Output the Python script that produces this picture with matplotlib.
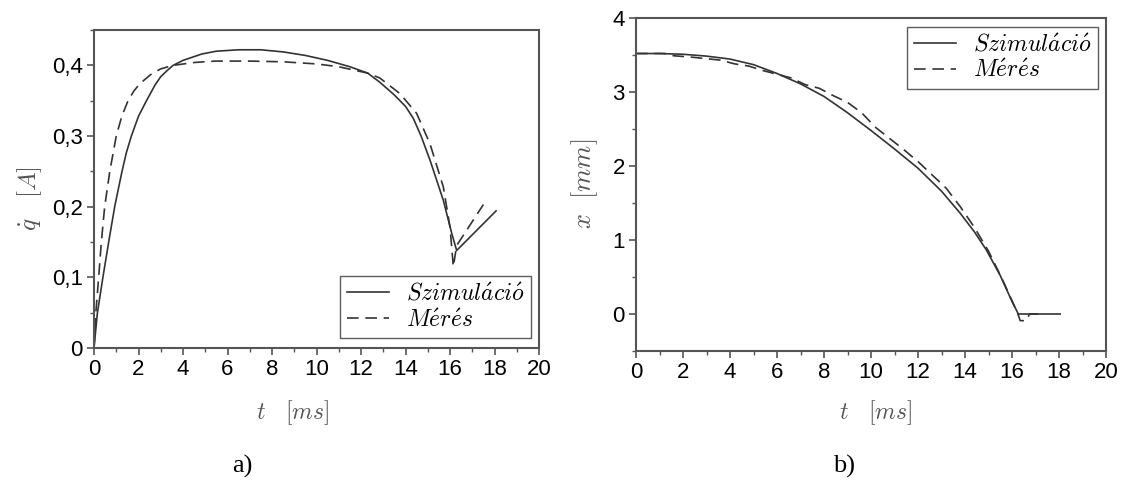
import matplotlib
matplotlib.use("Agg")
import matplotlib.pyplot as plt
from matplotlib.ticker import MultipleLocator

plt.rcParams['mathtext.fontset'] = 'cm'
plt.rcParams['font.family'] = ['Liberation Sans', 'DejaVu Sans']

# ---- data: panel a) current derivative ----
t_sim_a = [0, 0.15, 0.4, 0.66, 0.93, 1.1, 1.26, 1.45, 1.68, 2.0, 2.36, 2.74, 3.0, 3.3, 3.56,
           4.0, 4.84, 5.5, 6.5, 7.5, 8.5, 9.5, 10.5, 11.5, 12.3, 12.85, 13.5, 14.0, 14.35,
           14.7, 15.1, 15.7, 16.08, 16.3, 18.07]
q_sim = [0, 0.049, 0.1, 0.15, 0.2, 0.226, 0.25, 0.276, 0.3, 0.328, 0.35, 0.372, 0.384, 0.393,
         0.4, 0.407, 0.416, 0.42, 0.422, 0.422, 0.419, 0.414, 0.407, 0.398, 0.389, 0.376,
         0.358, 0.342, 0.325, 0.3, 0.266, 0.209, 0.162, 0.138, 0.194]
t_meas_a = [0, 0.08, 0.21, 0.33, 0.48, 0.71, 1.0, 1.25, 1.53, 1.8, 2.06, 2.59, 3.0, 3.56,
            4.5, 5.44, 7.0, 8.5, 10.0, 11.0, 12.3, 12.85, 13.75, 14.5, 15.1, 15.7, 16.0,
            16.15, 16.3, 17.5]
q_meas = [0, 0.049, 0.1, 0.15, 0.2, 0.25, 0.3, 0.328, 0.35, 0.364, 0.374, 0.388, 0.395, 0.4,
          0.404, 0.406, 0.406, 0.405, 0.402, 0.398, 0.389, 0.382, 0.36, 0.332, 0.289, 0.228,
          0.171, 0.115, 0.145, 0.203]

# ---- data: panel b) position ----
t_sim_b = [0, 1, 2, 3, 4, 5, 6, 7, 8, 9, 10, 11, 12, 13, 13.8, 14.4, 14.9, 15.5, 16.0,
           16.27, 18.05]
x_sim = [3.52, 3.52, 3.51, 3.485, 3.445, 3.37, 3.25, 3.11, 2.94, 2.72, 2.48, 2.23, 1.97,
         1.66, 1.36, 1.11, 0.87, 0.52, 0.17, 0.0, 0.0]
t_meas_b = [0, 1.2, 1.6, 2.4, 3.0, 3.6, 4.2, 4.8, 5.4, 6.0, 6.6, 7.2, 7.8, 8.4, 9.0, 9.6,
            10.2, 10.8, 11.4, 12.0, 12.6, 13.2, 13.8, 14.4, 15.0, 15.6, 16.0, 16.25, 16.35,
            16.6, 16.75, 17.4]
x_meas = [3.52, 3.52, 3.49, 3.47, 3.45, 3.43, 3.38, 3.35, 3.29, 3.24, 3.19, 3.10, 3.05, 2.95,
          2.86, 2.72, 2.52, 2.37, 2.22, 2.06, 1.88, 1.70, 1.45, 1.17, 0.85, 0.46, 0.18, 0.0,
          -0.09, -0.09, 0.0, 0.0]

xticks = [0, 2, 4, 6, 8, 10, 12, 14, 16, 18, 20]
a_yticks = [0, 0.1, 0.2, 0.3, 0.4]
a_yticklabels = ['0', '0,1', '0,2', '0,3', '0,4']
b_yticks = [0, 1, 2, 3, 4]
b_yticklabels = ['0', '1', '2', '3', '4']
legend_labels = [r'$Szimul\acute{a}ci\acute{o}$', r'$M\acute{e}r\acute{e}s$']

W, H = 1127, 482
fig = plt.figure(figsize=(W / 100, H / 100), dpi=100)

def px_axes(l, r, t, b):
    return fig.add_axes([l / W, 1 - b / H, (r - l) / W, (b - t) / H])

axA = px_axes(94, 539, 30, 348)
axB = px_axes(636, 1106, 18, 351)

line_col = '#333333'
spine_col = '#555555'
lab_col = '#555555'

for ax in (axA, axB):
    for s in ax.spines.values():
        s.set_color(spine_col)
        s.set_linewidth(1.5)
    ax.tick_params(which='major', direction='out', length=5, width=1.2, color=spine_col,
                   labelsize=16, labelcolor='black', pad=3)
    ax.tick_params(which='minor', direction='out', length=3, width=1.0, color=spine_col)
    ax.set_xlim(0, 20)
    ax.set_xticks(xticks)
    ax.set_xticklabels([str(v) for v in xticks])
    ax.xaxis.set_minor_locator(MultipleLocator(1))

leg_kw = dict(fontsize=17, frameon=True, fancybox=False, handlelength=1.8,
              labelspacing=0.15, borderpad=0.28, handletextpad=0.7, borderaxespad=0)

# panel a
axA.plot(t_sim_a, q_sim, color=line_col, lw=1.2, label=legend_labels[0])
axA.plot(t_meas_a, q_meas, color=line_col, lw=1.2, dashes=(7, 4), label=legend_labels[1])
axA.set_ylim(0, 0.45)
axA.set_yticks(a_yticks)
axA.set_yticklabels(a_yticklabels)
axA.yaxis.set_minor_locator(MultipleLocator(0.05))
legA = axA.legend(loc='lower right', bbox_to_anchor=(0.982, 0.031), **leg_kw)
legA.get_frame().set_edgecolor('#333333')
legA.get_frame().set_linewidth(1.0)

# panel b
axB.plot(t_sim_b, x_sim, color=line_col, lw=1.2, label=legend_labels[0])
axB.plot(t_meas_b, x_meas, color=line_col, lw=1.2, dashes=(7, 4), label=legend_labels[1])
axB.set_ylim(-0.5, 4)
axB.set_yticks(b_yticks)
axB.set_yticklabels(b_yticklabels)
axB.yaxis.set_minor_locator(MultipleLocator(0.5))
legB = axB.legend(loc='upper right', bbox_to_anchor=(0.983, 0.973), **leg_kw)
legB.get_frame().set_edgecolor('#333333')
legB.get_frame().set_linewidth(1.0)

# axis labels
def ftext(x, y, s, **kw):
    fig.text(x / W, 1 - y / H, s, ha='center', va='center', **kw)

ftext(293, 413, r'$t\quad[ms]$', fontsize=17, color=lab_col)
ftext(876, 413, r'$t\quad[ms]$', fontsize=17, color=lab_col)
ftext(30, 199, r'$\dot{q}\quad[A]$', fontsize=18, color=lab_col, rotation=90)
ftext(585, 184, r'$x\ \ [mm]$', fontsize=19, color=lab_col, rotation=90)
ftext(242, 466, 'a)', fontsize=19, color='black', family='Liberation Serif')
ftext(844, 466, 'b)', fontsize=19, color='black', family='Liberation Serif')

fig.savefig('out.png', dpi=100, facecolor='white')
